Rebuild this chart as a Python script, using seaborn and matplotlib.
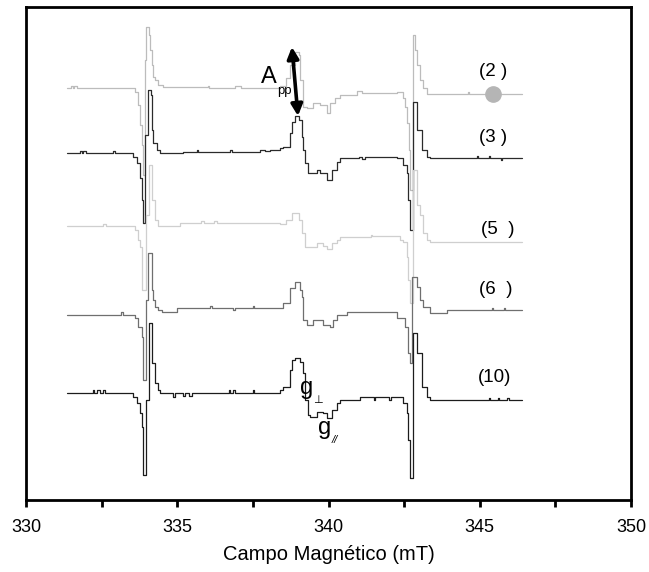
import numpy as np
import pandas as pd
import matplotlib
matplotlib.use('Agg')
import matplotlib.pyplot as plt
import seaborn as sns

sns.set_style('white')
plt.rcParams['font.family'] = ['Liberation Sans', 'DejaVu Sans']
plt.rcParams['text.color'] = 'black'
plt.rcParams['xtick.color'] = 'black'
plt.rcParams['axes.labelcolor'] = 'black'

# espectros EPR (degraus) - campo em mT, sinal em unidades arbitrárias
campo_2 = [331.36, 331.48, 331.55, 331.60, 331.70, 333.60, 333.70, 333.77, 333.83, 333.87,
           333.93, 333.97, 334.07, 334.10, 334.17, 334.20, 334.26, 334.36, 334.53, 336.0,
           336.05, 336.9, 337.1, 338.40, 338.60, 338.73, 338.89, 339.02, 339.06, 339.16,
           339.29, 339.49, 339.72, 339.95, 340.05, 340.20, 340.38, 340.95, 341.10, 342.26,
           342.46, 342.53, 342.60, 342.65, 342.69, 342.79, 342.86, 342.93, 343.02, 343.12,
           343.26, 344.6, 344.65, 346.40]
sinal_2 = [412, 414, 412, 414, 412, 408, 395, 375, 355, 325,
           440, 473, 465, 450, 435, 423, 420, 415, 413, 414,
           412, 414, 412, 414, 422, 435, 448, 445, 420, 393,
           392, 397, 395, 387, 397, 402, 405, 409, 407, 408,
           402, 393, 377, 350, 310, 465, 450, 435, 420, 412,
           406, 408, 406, 406]

campo_3 = [331.36, 331.78, 331.85, 331.90, 331.98, 332.88, 332.95, 333.54, 333.67, 333.77,
           333.83, 333.87, 333.93, 334.03, 334.13, 334.17, 334.20, 334.33, 334.43, 335.19,
           335.65, 335.70, 336.74, 336.80, 337.75, 337.90, 338.07, 338.40, 338.50, 338.73,
           338.79, 338.89, 339.02, 339.12, 339.16, 339.22, 339.32, 339.62, 339.72, 339.95,
           340.12, 340.28, 340.38, 341.00, 341.10, 341.20, 342.26, 342.46, 342.60, 342.63,
           342.69, 342.79, 342.93, 343.09, 343.26, 343.36, 344.9, 344.95, 345.3, 345.35,
           345.7, 345.75, 346.40]
sinal_3 = [347, 349, 347, 349, 347, 349, 347, 343, 337, 322,
           300, 277, 365, 410, 405, 370, 357, 350, 347, 348,
           350, 348, 350, 348, 350, 349, 350, 352, 353, 367,
           378, 384, 380, 363, 350, 337, 327, 330, 327, 320,
           330, 338, 342, 343, 341, 343, 342, 335, 327, 300,
           270, 398, 370, 350, 343, 342, 344, 342, 344, 342,
           340, 342, 342]

campo_5 = [331.36, 332.55, 332.65, 333.60, 333.70, 333.77, 333.83, 333.97, 334.07, 334.17,
           334.26, 334.36, 335.10, 335.80, 335.90, 336.20, 336.30, 338.40, 338.60, 338.79,
           339.02, 339.12, 339.22, 339.62, 339.82, 339.95, 340.12, 340.28, 340.38, 341.40,
           341.45, 342.36, 342.46, 342.60, 342.63, 342.69, 342.79, 342.93, 343.02, 343.12,
           343.26, 343.36, 346.40]
sinal_5 = [274, 276, 274, 270, 260, 253, 210, 285, 335, 300,
           280, 274, 277, 279, 277, 279, 277, 276, 280, 287,
           280, 267, 253, 257, 254, 251, 257, 260, 263, 265,
           264, 260, 258, 243, 220, 197, 330, 295, 285, 267,
           260, 258, 258]

campo_6 = [331.36, 333.15, 333.20, 333.60, 333.70, 333.83, 333.87, 333.97, 334.03, 334.17,
           334.20, 334.26, 334.36, 334.50, 334.99, 336.08, 336.15, 336.85, 336.92, 337.50,
           337.55, 338.50, 338.73, 338.89, 339.06, 339.12, 339.16, 339.29, 339.49, 339.82,
           340.05, 340.15, 340.28, 340.61, 342.26, 342.53, 342.63, 342.69, 342.76, 342.93,
           343.02, 343.12, 343.36, 343.92, 345.40, 345.45, 345.80, 345.85, 346.40]
sinal_6 = [185, 188, 185, 182, 173, 163, 120, 200, 247, 210,
           200, 193, 190, 188, 192, 194, 192, 190, 192, 194,
           192, 197, 212, 218, 210, 203, 180, 175, 180, 175,
           173, 180, 185, 188, 182, 173, 147, 137, 223, 213,
           200, 193, 187, 190, 192, 190, 192, 190, 190]

campo_10 = [331.36, 332.20, 332.25, 332.35, 332.45, 332.55, 332.60, 333.54, 333.67, 333.77,
            333.83, 333.87, 333.97, 334.07, 334.17, 334.26, 334.36, 334.43, 334.86, 334.92,
            335.20, 335.25, 335.40, 335.50, 336.70, 336.75, 336.85, 336.90, 337.50, 337.55,
            338.40, 338.50, 338.73, 338.79, 338.89, 339.06, 339.16, 339.22, 339.32, 339.39,
            339.62, 339.82, 339.95, 340.12, 340.28, 340.38, 341.04, 341.50, 341.55, 342.00,
            342.05, 342.46, 342.60, 342.63, 342.69, 342.80, 342.93, 343.09, 343.26, 343.36,
            345.30, 345.35, 345.60, 345.65, 345.90, 345.95, 346.40]
sinal_10 = [107, 110, 107, 110, 107, 110, 107, 103, 97, 87,
            73, 25, 100, 177, 137, 117, 110, 107, 103, 107,
            104, 107, 104, 107, 110, 107, 110, 107, 110, 107,
            110, 113, 130, 140, 142, 138, 127, 100, 85, 83,
            88, 87, 82, 90, 97, 100, 103, 100, 103, 100,
            103, 97, 87, 60, 22, 167, 147, 113, 103, 100,
            102, 100, 102, 100, 102, 100, 100]

amostras = ['(2 )', '(3 )', '(5  )', '(6  )', '(10)']
cores = ['#bcbcbc', '#2b2b2b', '#cfcfcf', '#6f6f6f', '#1c1c1c']
campos = [campo_2, campo_3, campo_5, campo_6, campo_10]
sinais = [sinal_2, sinal_3, sinal_5, sinal_6, sinal_10]
pos_rotulo = [(345.44, 428), (345.44, 362), (345.60, 270), (345.54, 210), (345.50, 122)]

fig = plt.figure(figsize=(6.49, 5.72), dpi=100)
ax = fig.add_axes([0.0401, 0.1259, 0.9322, 0.8619])

for nome, cor, cx, sy in zip(amostras, cores, campos, sinais):
    df = pd.DataFrame({'campo': cx, 'sinal': sy})
    sns.lineplot(data=df, x='campo', y='sinal', color=cor, lw=0.9, ax=ax,
                 drawstyle='steps-post', estimator=None, sort=False)

for nome, (px, py) in zip(amostras, pos_rotulo):
    ax.text(px, py, nome, fontsize=13.5, ha='center', va='center')

# marcador da amostra (2)
ax.plot([345.44], [406], 'o', color='#b5b5b5', markersize=11)

# A_pp
ax.annotate('', xy=(338.79, 453), xytext=(338.99, 384),
            arrowprops=dict(arrowstyle='<|-|>', lw=2.6, color='black',
                            mutation_scale=17, shrinkA=0, shrinkB=0))
ax.text(338.03, 423, 'A', fontsize=17, ha='center', va='center')
ax.text(338.53, 409, 'pp', fontsize=9.5, ha='center', va='center')

# g perpendicular e paralelo
ax.text(339.29, 112, 'g', fontsize=17, ha='center', va='center')
ax.text(339.65, 100, '⊥', fontsize=8, ha='center', va='center',
        family=['DejaVu Sans'])
ax.text(339.88, 72, 'g', fontsize=17, ha='center', va='center')
ax.text(340.21, 60, '//', fontsize=8, ha='center', va='center', style='italic')

ax.set_xlim(330, 350)
ax.set_ylim(0, 493)
ax.set_xticks(np.arange(330, 351, 5))
ax.set_xticks(np.arange(332.5, 350, 5), minor=True)
ax.set_yticks([])
ax.tick_params(axis='x', which='both', direction='out', length=5, width=2,
               labelsize=13, pad=9, bottom=True, top=False, colors='black')
for s in ax.spines.values():
    s.set_linewidth(2)
    s.set_color('black')
ax.set_xlabel('Campo Magnético (mT)', fontsize=14.5, labelpad=6)
ax.set_ylabel('')

plt.savefig('out.png', dpi=100)
